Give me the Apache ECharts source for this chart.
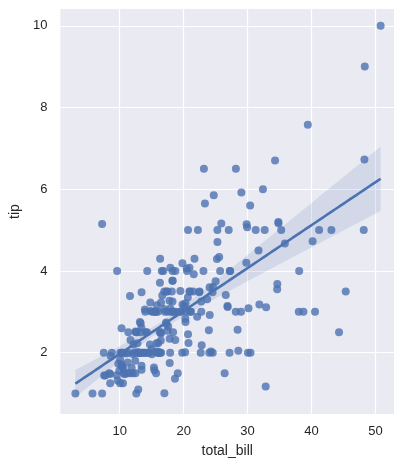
<!DOCTYPE html>
<html><head><meta charset="utf-8">
<script src="https://cdn.jsdelivr.net/npm/echarts@6/dist/echarts.min.js"></script>
<style>html,body{margin:0;padding:0;background:#fff}#c{width:404px;height:466px}</style>
</head><body><div id="c"></div>
<script>
const totalBill = [16.99,10.34,21.01,23.68,24.59,25.29,8.77,26.88,15.04,14.78,10.27,35.26,15.42,18.43,14.83,21.58,10.33,16.29,16.97,20.65,17.92,20.29,15.77,39.42,19.82,17.81,13.37,12.69,21.7,19.65,9.55,18.35,15.06,20.69,17.78,24.06,16.31,16.93,18.69,31.27,16.04,17.46,13.94,9.68,30.4,18.29,22.23,32.4,28.55,18.04,12.54,10.29,34.81,9.94,25.56,19.49,38.01,26.41,11.24,48.27,20.29,13.81,11.02,18.29,17.59,20.08,16.45,3.07,20.23,15.01,12.02,17.07,26.86,25.28,14.73,10.51,17.92,27.2,22.76,17.29,19.44,16.66,10.07,32.68,15.98,34.83,13.03,18.28,24.71,21.16,28.97,22.49,5.75,16.32,22.75,40.17,27.28,12.03,21.01,12.46,11.35,15.38,44.3,22.42,20.92,15.36,20.49,25.21,18.24,14.31,14.0,7.25,38.07,23.95,25.71,17.31,29.93,10.65,12.43,24.08,11.69,13.42,14.26,15.95,12.48,29.8,8.52,14.52,11.38,22.82,19.08,20.27,11.17,12.26,18.26,8.51,10.33,14.15,16.0,13.16,17.47,34.3,41.19,27.05,16.43,8.35,18.64,11.87,9.78,7.51,14.07,13.13,17.26,24.55,19.77,29.85,48.17,25.0,13.39,16.49,21.5,12.66,16.21,13.81,17.51,24.52,20.76,31.71,10.59,10.63,50.81,15.81,7.25,31.85,16.82,32.9,17.89,14.48,9.6,34.63,34.65,23.33,45.35,23.17,40.55,20.69,20.9,30.46,18.15,23.1,15.69,19.81,28.44,15.48,16.58,7.56,10.34,43.11,13.0,13.51,18.71,12.74,13.0,16.4,20.53,16.47,26.59,38.73,24.27,12.76,30.06,25.89,48.33,13.27,28.17,12.9,28.15,11.59,7.74,30.14,12.16,13.42,8.58,15.98,13.42,16.27,10.09,20.45,13.28,22.12,24.01,15.69,11.61,10.77,15.53,10.07,12.6,32.83,35.83,29.03,27.18,22.67,17.82,18.78];
const tip = [1.01,1.66,3.5,3.31,3.61,4.71,2.0,3.12,1.96,3.23,1.71,5.0,1.57,3.0,3.02,3.92,1.67,3.71,3.5,3.35,4.08,2.75,2.23,7.58,3.18,2.34,2.0,2.0,4.3,3.0,1.45,2.5,3.0,2.45,3.27,3.6,2.0,3.07,2.31,5.0,2.24,2.54,3.06,1.32,5.6,3.0,5.0,6.0,2.05,3.0,2.5,2.6,5.2,1.56,4.34,3.51,3.0,1.5,1.76,6.73,3.21,2.0,1.98,3.76,2.64,3.15,2.47,1.0,2.01,2.09,1.97,3.0,3.14,5.0,2.2,1.25,3.08,4.0,3.0,2.71,3.0,3.4,1.83,5.0,2.03,5.17,2.0,4.0,5.85,3.0,3.0,3.5,1.0,4.3,3.25,4.73,4.0,1.5,3.0,1.5,2.5,3.0,2.5,3.48,4.08,1.64,4.06,4.29,3.76,4.0,3.0,1.0,4.0,2.55,4.0,3.5,5.07,1.5,1.8,2.92,2.31,1.68,2.5,2.0,2.52,4.2,1.48,2.0,2.0,2.18,1.5,2.83,1.5,2.0,3.25,1.25,2.0,2.0,2.0,2.75,3.5,6.7,5.0,5.0,2.3,1.5,1.36,1.63,1.73,2.0,2.5,2.0,2.74,2.0,2.0,5.14,5.0,3.75,2.61,2.0,3.5,2.5,2.0,2.0,3.0,3.48,2.24,4.5,1.61,2.0,10.0,3.16,5.15,3.18,4.0,3.11,2.0,2.0,4.0,3.55,3.68,5.65,3.5,6.5,3.0,5.0,3.5,2.0,3.5,4.0,1.5,4.19,2.56,2.02,4.0,1.44,2.0,5.0,2.0,2.0,4.0,2.01,2.0,2.5,4.0,3.23,3.41,3.0,2.03,2.23,2.0,5.16,9.0,2.5,6.5,1.1,3.0,1.5,1.44,3.09,2.2,3.48,1.92,3.0,1.58,2.5,2.0,3.0,2.72,2.88,2.0,3.0,3.39,1.47,3.0,1.25,1.0,1.17,4.67,5.92,2.0,2.0,1.75,3.0];
const xTicks = [10, 20, 30, 40, 50];
const yTicks = [2, 4, 6, 8, 10];

// Linear regression fit with (heteroskedasticity-robust) 95% confidence band
const n = totalBill.length;
const mx = totalBill.reduce((a, b) => a + b, 0) / n;
const my = tip.reduce((a, b) => a + b, 0) / n;
let sxx = 0, sxy = 0;
for (let i = 0; i < n; i++) { sxx += (totalBill[i] - mx) ** 2; sxy += (totalBill[i] - mx) * (tip[i] - my); }
const b1 = sxy / sxx, b0 = my - b1 * mx;
let se2 = 0, sde2 = 0, sd2e2 = 0;
for (let i = 0; i < n; i++) {
  const d = totalBill[i] - mx, e = tip[i] - (b0 + b1 * totalBill[i]);
  se2 += e * e; sde2 += d * e * e; sd2e2 += d * d * e * e;
}
const vc = se2 / (n * n), vb = sd2e2 / (sxx * sxx), cv = sde2 / (n * sxx);
const xMin = Math.min(...totalBill), xMax = Math.max(...totalBill);
const gx = [], fit = [], lo = [], hi = [];
for (let k = 0; k < 100; k++) {
  const x = xMin + (xMax - xMin) * k / 99;
  const d = x - mx;
  const y = b0 + b1 * x;
  const s = Math.sqrt(vc + d * d * vb + 2 * d * cv);
  gx.push(x); fit.push([x, y]); lo.push(y - 1.96 * s); hi.push(y + 1.96 * s);
}

const font = "'Liberation Sans', Arial, sans-serif";
const chart = echarts.init(document.getElementById('c'), null, { renderer: 'canvas' });
chart.setOption({
  backgroundColor: '#ffffff',
  animation: false,
  grid: { left: 55, right: 10, top: 9, bottom: 52, show: true, backgroundColor: '#EAEAF2', borderWidth: 0 },
  xAxis: {
    type: 'value', min: 0.72, max: 52.9,
    name: 'total_bill', nameLocation: 'middle', nameGap: 30,
    nameTextStyle: { fontFamily: font, fontSize: 14, color: '#262626' },
    axisLine: { show: false },
    axisTick: { show: false, customValues: xTicks },
    axisLabel: { customValues: xTicks, fontFamily: font, fontSize: 13, color: '#262626', margin: 11 },
    splitLine: { show: true, lineStyle: { color: '#ffffff', width: 1.2 } }
  },
  yAxis: {
    type: 'value', min: 0.5, max: 10.41,
    name: 'tip', nameLocation: 'middle', nameGap: 33,
    nameTextStyle: { fontFamily: font, fontSize: 14, color: '#262626' },
    axisLine: { show: false },
    axisTick: { show: false, customValues: yTicks },
    axisLabel: { customValues: yTicks, fontFamily: font, fontSize: 13, color: '#262626', margin: 13 },
    splitLine: { show: true, lineStyle: { color: '#ffffff', width: 1.2 } }
  },
  series: [
    {
      type: 'scatter', z: 2,
      data: totalBill.map((x, i) => [x, tip[i]]),
      symbolSize: 8,
      itemStyle: { color: '#4C72B0', opacity: 0.8 }
    },
    {
      type: 'custom', z: 3, silent: true,
      data: [[gx[0], lo[0]]],
      renderItem: (params, api) => {
        const pts = [];
        for (let k = 0; k < gx.length; k++) pts.push(api.coord([gx[k], hi[k]]));
        for (let k = gx.length - 1; k >= 0; k--) pts.push(api.coord([gx[k], lo[k]]));
        return { type: 'polygon', shape: { points: pts }, style: { fill: 'rgba(76,114,176,0.15)' } };
      }
    },
    {
      type: 'line', z: 4, data: fit, showSymbol: false, symbol: 'none',
      lineStyle: { color: '#4C72B0', width: 2.6 }
    }
  ]
});
</script>
</body></html>
